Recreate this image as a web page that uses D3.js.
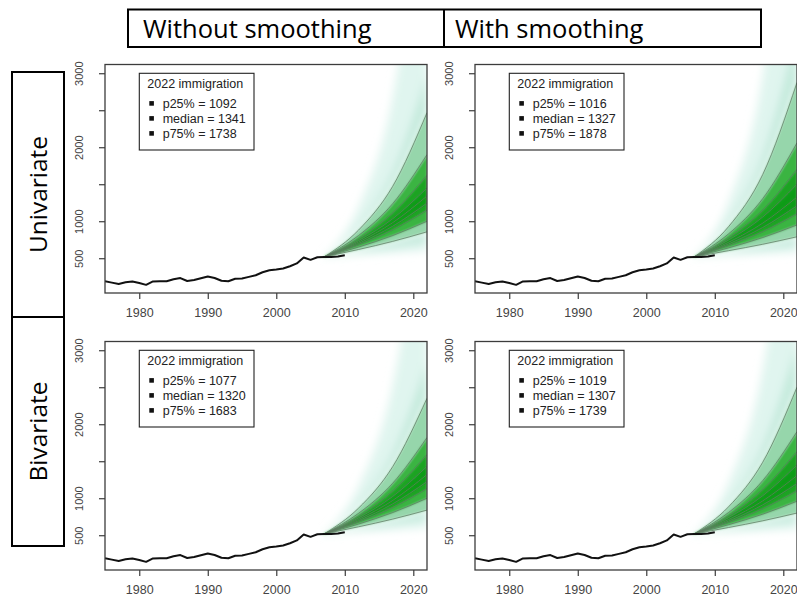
<!DOCTYPE html>
<html>
<head>
<meta charset="utf-8">
<script src="https://cdn.jsdelivr.net/npm/d3@7"></script>
<style>
  body { margin: 0; background: #fff; }
  svg { display: block; }
</style>
</head>
<body>
<script>
"use strict";

// ---- data ----
const colTitles = ["Without smoothing", "With smoothing"];
const rowTitles = ["Univariate", "Bivariate"];

const obsFirstYear = 1975;
const obsValues = [188, 170, 152, 175, 186, 165, 140, 186, 188, 188,
                   215, 232, 192, 205, 230, 253, 233, 196, 188, 222,
                   226, 248, 270, 310, 337, 348, 362, 392, 430, 510,
                   478, 513, 518, 516, 522, 540];

const xTicks = [1980, 1990, 2000, 2010, 2020];
const yTicks = [500, 1000, 1500, 2000, 2500, 3000];
const yLabelled = [500, 1000, 2000, 3000];

// fan: quantiles of the forecast, one row per year in fanYears (after the start)
const fanYears = [2007, 2012, 2017, 2022];
const fanStart = 518;
const fanProbs = [0.01, 0.05, 0.1, 0.2, 0.3, 0.4, 0.5, 0.6, 0.7, 0.8, 0.9, 0.95, 0.99];
const lineProbs = [0.1, 0.2, 0.3, 0.4, 0.5, 0.6, 0.7, 0.8, 0.9];

const fanUniRaw = [
  [549, 583, 618, 651, 682, 700, 718, 737, 764, 806, 879, 939, 1182],
  [574, 648, 728, 807, 886, 933, 981, 1034, 1113, 1238, 1472, 1678, 2662],
  [600, 720, 857, 1000, 1150, 1245, 1341, 1450, 1620, 1900, 2466, 3000, 6000]
];
const fanUniSmooth = [
  [543, 572, 602, 640, 672, 693, 715, 745, 777, 828, 925, 998, 1245],
  [561, 624, 689, 780, 860, 916, 974, 1057, 1149, 1305, 1631, 1895, 2952],
  [580, 680, 790, 950, 1100, 1210, 1327, 1500, 1700, 2058, 2874, 3600, 7000]
];
const fanBiRaw = [
  [549, 583, 614, 651, 678, 696, 714, 733, 760, 795, 865, 923, 1149],
  [574, 648, 718, 807, 876, 924, 970, 1024, 1099, 1203, 1427, 1622, 2513],
  [600, 720, 840, 1000, 1130, 1225, 1320, 1430, 1590, 1820, 2350, 2850, 5500]
];
const fanBiSmooth = [
  [544, 575, 604, 642, 672, 691, 711, 737, 766, 806, 883, 949, 1196],
  [564, 630, 695, 785, 860, 911, 964, 1034, 1117, 1238, 1486, 1714, 2723],
  [585, 690, 800, 960, 1100, 1200, 1307, 1450, 1630, 1900, 2500, 3100, 6200]
];

const legendTitle = "2022 immigration";
const legendLabels = ["p25%", "median", "p75%"];
const legendUniRaw = [1092, 1341, 1738];
const legendUniSmooth = [1016, 1327, 1878];
const legendBiRaw = [1077, 1320, 1683];
const legendBiSmooth = [1019, 1307, 1739];

(function() {

const width = 797;
const height = 601;
const panelW = 322;
const panelH = 228.5;

// band colours, centre -> outside
const bandColors = ["#0a9b12", "#1aa322", "#3ab443", "#96d6ab", "#c3eadb", "#e0f5ef"];

const panels = [
  {left: 105, top: 64.5, fan: fanUniRaw, legend: legendUniRaw},
  {left: 475, top: 64.5, fan: fanUniSmooth, legend: legendUniSmooth},
  {left: 105, top: 341.5, fan: fanBiRaw, legend: legendBiRaw},
  {left: 475, top: 341.5, fan: fanBiSmooth, legend: legendBiSmooth}
];

let svg = d3.select("body").append("svg")
    .attr("width", width)
    .attr("height", height);

svg.append("rect")
    .attr("width", width)
    .attr("height", height)
    .attr("fill", "#fff");

let defs = svg.append("defs");

// soft edges for the fan shading
defs.append("filter").attr("id", "soft")
    .attr("x", "-20%").attr("y", "-20%")
    .attr("width", "140%").attr("height", "140%")
  .append("feGaussianBlur")
    .attr("stdDeviation", 1);
defs.append("filter").attr("id", "haze")
    .attr("x", "-30%").attr("y", "-30%")
    .attr("width", "160%").attr("height", "160%")
  .append("feGaussianBlur")
    .attr("stdDeviation", 4);

let obs = obsValues.map((v, i) => ({year: obsFirstYear + i, v: v}));

panels.forEach(function(p, pi) {
    let x = d3.scaleLinear().domain([1975, 2022]).range([p.left, p.left + panelW]);
    let y = d3.scaleLinear().domain([30, 3118]).range([p.top + panelH, p.top]);

    defs.append("clipPath").attr("id", "clip" + pi)
      .append("rect")
        .attr("x", p.left).attr("y", p.top)
        .attr("width", panelW).attr("height", panelH);

    let g = svg.append("g");
    let plot = g.append("g").attr("clip-path", "url(#clip" + pi + ")");

    // quantile paths, one per prob
    let qPaths = fanProbs.map(function(prob, j) {
        let pts = [{year: fanYears[0], v: fanStart}];
        p.fan.forEach((row, r) => pts.push({year: fanYears[r + 1], v: row[j]}));
        return pts;
    });

    let area = d3.area()
        .x(d => x(d.year))
        .y0(d => y(d.lo))
        .y1(d => y(d.hi))
        .curve(d3.curveMonotoneX);

    // outer haze (blurred), then inner bands (lightly softened)
    let hazeG = plot.append("g").attr("filter", "url(#haze)");
    let bandG = plot.append("g").attr("filter", "url(#soft)");

    for (let k = 0; k < fanProbs.length - 1; k++) {
        let band = qPaths[k].map((d, i) => ({year: d.year, lo: d.v, hi: qPaths[k + 1][i].v}));
        let dist = k < 6 ? 5 - k : k - 6;
        let target = dist >= 4 ? hazeG : bandG;
        target.append("path")
            .attr("d", area(band))
            .attr("fill", bandColors[dist])
            .attr("stroke", bandColors[dist])
            .attr("stroke-width", 0.6);
    }

    // decile lines
    let line = d3.line()
        .x(d => x(d.year))
        .y(d => y(d.v))
        .curve(d3.curveMonotoneX);

    lineProbs.forEach(function(prob) {
        let j = fanProbs.indexOf(prob);
        plot.append("path")
            .attr("d", line(qPaths[j]))
            .attr("fill", "none")
            .attr("stroke", "#5e7a62")
            .attr("stroke-opacity", 0.85)
            .attr("stroke-width", 0.9);
    });

    // observed series
    plot.append("path")
        .attr("d", line.curve(d3.curveLinear)(obs))
        .attr("fill", "none")
        .attr("stroke", "#111")
        .attr("stroke-width", 2)
        .attr("stroke-linejoin", "round");

    // box
    g.append("rect")
        .attr("x", p.left).attr("y", p.top)
        .attr("width", panelW).attr("height", panelH)
        .attr("fill", "none")
        .attr("stroke", "#3c3c3c")
        .attr("stroke-width", 1.3);

    // x axis
    let xAxis = g.append("g")
        .attr("transform", "translate(0," + (p.top + panelH) + ")")
        .call(d3.axisBottom(x).tickValues(xTicks).tickFormat(d3.format("d"))
            .tickSize(6).tickPadding(9));
    xAxis.select(".domain").remove();
    xAxis.selectAll("line").attr("stroke", "#3c3c3c").attr("stroke-width", 1.2);
    xAxis.selectAll("text")
        .attr("fill", "#444")
        .style("font-family", "'Liberation Sans', Arial, sans-serif")
        .style("font-size", "12.5px");

    // y axis, labels parallel to the axis
    let yAxis = g.append("g")
        .attr("transform", "translate(" + p.left + ",0)")
        .call(d3.axisLeft(y).tickValues(yTicks)
            .tickFormat(d => yLabelled.includes(d) ? d : "")
            .tickSize(6));
    yAxis.select(".domain").remove();
    yAxis.selectAll("line").attr("stroke", "#3c3c3c").attr("stroke-width", 1.2);
    yAxis.selectAll("text")
        .attr("x", null)
        .attr("dy", "0.36em")
        .attr("transform", "translate(-26,0) rotate(-90)")
        .attr("text-anchor", "middle")
        .attr("fill", "#444")
        .style("font-family", "'Liberation Sans', Arial, sans-serif")
        .style("font-size", "11px");

    // legend
    let lx = p.left + 34.3;
    let ly = p.top + 8.8;
    let leg = g.append("g")
        .style("font-family", "'Liberation Sans', Arial, sans-serif")
        .style("font-size", "12.5px")
        .attr("fill", "#222");
    leg.append("rect")
        .attr("x", lx).attr("y", ly)
        .attr("width", 114.7).attr("height", 76.7)
        .attr("fill", "#fff")
        .attr("stroke", "#222")
        .attr("stroke-width", 1.1);
    leg.append("text")
        .attr("x", lx + 8)
        .attr("y", ly + 14.7)
        .text(legendTitle);
    legendLabels.forEach(function(lab, i) {
        let by = ly + 34.8 + i * 15;
        leg.append("rect")
            .attr("x", lx + 10)
            .attr("y", by - 7)
            .attr("width", 4.6).attr("height", 4.6)
            .attr("fill", "#111");
        leg.append("text")
            .attr("x", lx + 23.4)
            .attr("y", by)
            .text(lab + " = " + p.legend[i]);
    });
});

// column header
let head = svg.append("g")
    .style("font-family", "'Open Sans', 'Noto Sans', sans-serif")
    .style("font-size", "25.5px")
    .attr("fill", "#000");
head.append("rect")
    .attr("x", 128).attr("y", 9.5)
    .attr("width", 633).attr("height", 37.5)
    .attr("fill", "#fff")
    .attr("stroke", "#000")
    .attr("stroke-width", 2);
head.append("line")
    .attr("x1", 444).attr("x2", 444)
    .attr("y1", 9.5).attr("y2", 47)
    .attr("stroke", "#000")
    .attr("stroke-width", 2);
head.selectAll("text.col")
    .data(colTitles)
    .enter()
    .append("text")
    .attr("class", "col")
    .attr("x", (d, i) => i === 0 ? 143 : 455)
    .attr("y", 37.5)
    .text(d => d);

// row labels
let rows = svg.append("g")
    .style("font-family", "'Open Sans', 'Noto Sans', sans-serif")
    .style("font-size", "24.5px")
    .attr("fill", "#000");
let rowBox = [[72, 317], [317, 546]];
rowTitles.forEach(function(t, i) {
    rows.append("rect")
        .attr("x", 12).attr("y", rowBox[i][0])
        .attr("width", 52).attr("height", rowBox[i][1] - rowBox[i][0])
        .attr("fill", "#fff")
        .attr("stroke", "#000")
        .attr("stroke-width", 2);
    let cy = (rowBox[i][0] + rowBox[i][1]) / 2;
    rows.append("text")
        .attr("transform", "translate(38," + cy + ") rotate(-90)")
        .attr("text-anchor", "middle")
        .attr("dy", "0.35em")
        .text(t);
});

})();
</script>
</body>
</html>
